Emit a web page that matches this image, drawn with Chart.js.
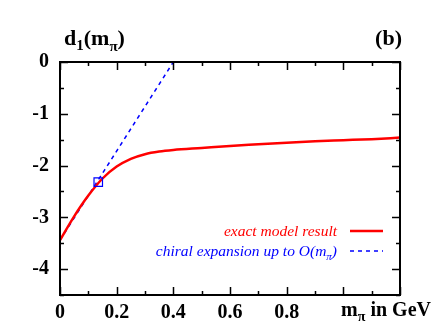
<!DOCTYPE html>
<html>
<head>
<meta charset="utf-8">
<script src="https://cdn.jsdelivr.net/npm/chart.js@4/dist/chart.umd.min.js"></script>
<style>
  html, body { margin: 0; padding: 0; background: #fff; }
  #wrap { width: 436px; height: 336px; position: relative; }
</style>
</head>
<body>
<div id="wrap"><canvas id="chart"></canvas></div>
<script>
// values
const exactX = [0, 0.05, 0.1, 0.15, 0.2, 0.25, 0.3, 0.35, 0.4, 0.5, 0.6, 0.7, 0.8, 0.9, 1.0, 1.1, 1.2];
const exactY = [-3.44, -2.98, -2.58, -2.25, -2.02, -1.87, -1.78, -1.73, -1.70, -1.66, -1.62, -1.59, -1.56, -1.53, -1.51, -1.49, -1.46];
const chiralX = [0, 0.4];
const chiralY = [-3.44, 0];
const markX = [0.135];
const markY = [-2.32];
const xTickLabels = ["0", "0.2", "0.4", "0.6", "0.8"];
const yTickLabels = ["0", "-1", "-2", "-3", "-4"];
const seriesNames = ["exact model result", "chiral expansion up to O(m"];

const serif = "'Liberation Serif', 'Times New Roman', serif";
const toPts = (xs, ys) => xs.map((x, i) => ({ x: x, y: ys[i] }));

// draws sub-scripted pieces of text: [text, size, dy]
function drawParts(ctx, parts, x, y, style, align) {
  let total = 0;
  parts.forEach((p) => {
    ctx.font = style + " " + p[1] + "px " + serif;
    total += ctx.measureText(p[0]).width;
  });
  let cx = align === "right" ? x - total : x;
  ctx.textAlign = "left";
  ctx.textBaseline = "alphabetic";
  parts.forEach((p) => {
    ctx.font = style + " " + p[1] + "px " + serif;
    ctx.fillText(p[0], cx, y + p[2]);
    cx += ctx.measureText(p[0]).width;
  });
}

const framePlugin = {
  id: "frame",
  afterDatasetsDraw(chart) {
    const ctx = chart.ctx;
    const a = chart.chartArea;
    const xs = chart.scales.x;
    const ys = chart.scales.y;
    ctx.save();
    ctx.strokeStyle = "#000";
    ctx.lineWidth = 1.5;
    xs.ticks.forEach((t) => {
      const px = Math.round(xs.getPixelForValue(t.value)) + 0.5;
      const len = Math.abs(t.value * 5 - Math.round(t.value * 5)) < 1e-6 ? 8 : 4;
      ctx.beginPath();
      ctx.moveTo(px, a.bottom); ctx.lineTo(px, a.bottom - len);
      ctx.moveTo(px, a.top); ctx.lineTo(px, a.top + len);
      ctx.stroke();
    });
    ys.ticks.forEach((t) => {
      const py = Math.round(ys.getPixelForValue(t.value)) + 0.5;
      const len = Number.isInteger(t.value) ? 8 : 4;
      ctx.beginPath();
      ctx.moveTo(a.left, py); ctx.lineTo(a.left + len, py);
      ctx.moveTo(a.right, py); ctx.lineTo(a.right - len, py);
      ctx.stroke();
    });
    ctx.lineWidth = 2;
    ctx.strokeRect(a.left, a.top, a.right - a.left, a.bottom - a.top);

    // legend
    const ds = chart.data.datasets;
    const lx = a.right - 50;
    const rows = [a.top + 169, a.top + 189];
    [0, 1].forEach((i) => {
      ctx.fillStyle = ds[i].borderColor;
      const parts = i === 0
        ? [[ds[i].label, 15.5, 0]]
        : [[ds[i].label, 15.5, 0], ["\u03c0", 11, 4], [")", 15.5, 0]];
      drawParts(ctx, parts, lx - 13, rows[i] + 5, "italic", "right");
      ctx.strokeStyle = ds[i].borderColor;
      ctx.lineWidth = ds[i].borderWidth;
      ctx.setLineDash(ds[i].borderDash || []);
      ctx.beginPath();
      ctx.moveTo(lx, rows[i]); ctx.lineTo(lx + 33, rows[i]);
      ctx.stroke();
      ctx.setLineDash([]);
    });

    // titles
    ctx.fillStyle = "#000";
    drawParts(ctx, [["d", 22, 0], ["1", 15, 5], ["(m", 22, 0], ["\u03c0", 15, 6], [")", 22, 0]], 64, 45, "bold", "left");
    drawParts(ctx, [["(b)", 22, 0]], 402, 45, "bold", "right");
    drawParts(ctx, [["m", 20, 0], ["\u03c0", 14, 5], [" in GeV", 20, 0]], 431, 316, "bold", "right");
    ctx.restore();
  },
};

const ctx = document.getElementById("chart").getContext("2d");
new Chart(ctx, {
  type: "line",
  data: {
    datasets: [
      {
        label: seriesNames[0],
        data: toPts(exactX, exactY),
        borderColor: "#ff0000",
        borderWidth: 2.5,
        pointRadius: 0,
        cubicInterpolationMode: "monotone",
        order: 2,
      },
      {
        label: seriesNames[1],
        data: toPts(chiralX, chiralY),
        borderColor: "#0000ff",
        borderWidth: 1.5,
        borderDash: [4, 4],
        pointRadius: 0,
        order: 3,
      },
      {
        label: "",
        data: toPts(markX, markY),
        showLine: false,
        pointStyle: "rect",
        pointRadius: 6,
        pointBorderColor: "#0000ff",
        pointBackgroundColor: "rgba(0,0,0,0)",
        pointBorderWidth: 1.2,
        order: 1,
      },
    ],
  },
  options: {
    responsive: true,
    maintainAspectRatio: false,
    animation: false,
    layout: { padding: { top: 62, right: 36, left: 0, bottom: 0 } },
    plugins: {
      legend: { display: false },
      tooltip: { enabled: false },
    },
    scales: {
      x: {
        type: "linear",
        min: 0,
        max: 1.2,
        border: { display: false },
        grid: { display: false, drawTicks: false },
        afterFit: (s) => { s.height = 41; },
        ticks: {
          stepSize: 0.1,
          autoSkip: false,
          maxRotation: 0,
          padding: 6,
          color: "#000",
          font: { family: serif, size: 20, weight: "bold" },
          callback: (v) => {
            const s = String(Math.round(v * 10) / 10);
            return xTickLabels.includes(s) ? s : "";
          },
        },
      },
      y: {
        min: -4.5,
        max: 0,
        border: { display: false },
        grid: { display: false, drawTicks: false },
        afterFit: (s) => { s.width = 60; },
        ticks: {
          stepSize: 0.5,
          autoSkip: false,
          padding: 11,
          color: "#000",
          font: { family: serif, size: 20, weight: "bold" },
          callback: (v) => {
            const s = String(v);
            return yTickLabels.includes(s) ? s : "";
          },
        },
      },
    },
  },
  plugins: [framePlugin],
});
</script>
</body>
</html>
